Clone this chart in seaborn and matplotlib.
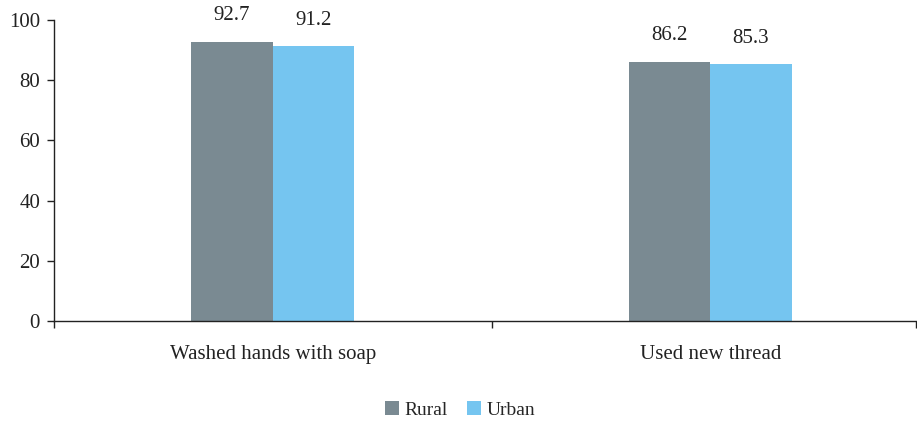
import matplotlib
matplotlib.use("Agg")
import matplotlib.pyplot as plt
import seaborn as sns
import pandas as pd
from matplotlib.ticker import FixedLocator

categories = ["Washed hands with soap", "Used new thread"]
rural = [92.7, 86.2]
urban = [91.2, 85.3]
series_names = ["Rural", "Urban"]
colors = ["#7A8A92", "#75C5F0"]

df = pd.DataFrame({
    "category": categories * 2,
    "value": rural + urban,
    "series": [series_names[0]] * 2 + [series_names[1]] * 2,
})

sns.set_style("white")
plt.rcParams["font.family"] = ["Liberation Serif", "DejaVu Serif"]

fig = plt.figure(figsize=(9.17, 4.21), dpi=100)
ax = fig.add_axes([54/917, 1-321/421, (916-54)/917, (321-20)/421])

sns.barplot(data=df, x="category", y="value", hue="series", order=categories,
            hue_order=series_names, palette=colors, width=0.372, ax=ax,
            saturation=1, edgecolor="none", linewidth=0, legend=True)

for c in ax.containers:
    ax.bar_label(c, fmt="%.1f", padding=12, fontsize=15, color="#222222")

ax.set_ylim(0, 100)
ax.set_xlim(-0.5, 1.47)
ax.set_yticks([0, 20, 40, 60, 80, 100])
ax.tick_params(axis="y", which="major", direction="out", length=5, width=1,
               labelsize=15, colors="#222222", left=True, pad=5)
ax.tick_params(axis="x", which="major", length=0, labelsize=15, pad=17, labelcolor="#222222")
ax.xaxis.set_minor_locator(FixedLocator([-0.5, 0.5, 1.47]))
ax.tick_params(axis="x", which="minor", direction="out", length=5, width=1, bottom=True, color="#222222")
ax.set_xlabel("")
ax.set_ylabel("")
for s in ["top", "right"]:
    ax.spines[s].set_visible(False)
for s in ["left", "bottom"]:
    ax.spines[s].set_color("#222222")
    ax.spines[s].set_linewidth(1)

leg = ax.legend(loc="center", bbox_to_anchor=(0.471, -0.296), ncol=2, frameon=False,
                fontsize=14, handlelength=0.7, handleheight=0.7, handletextpad=0.3,
                columnspacing=1.0)

fig.savefig("out.png", dpi=100)
